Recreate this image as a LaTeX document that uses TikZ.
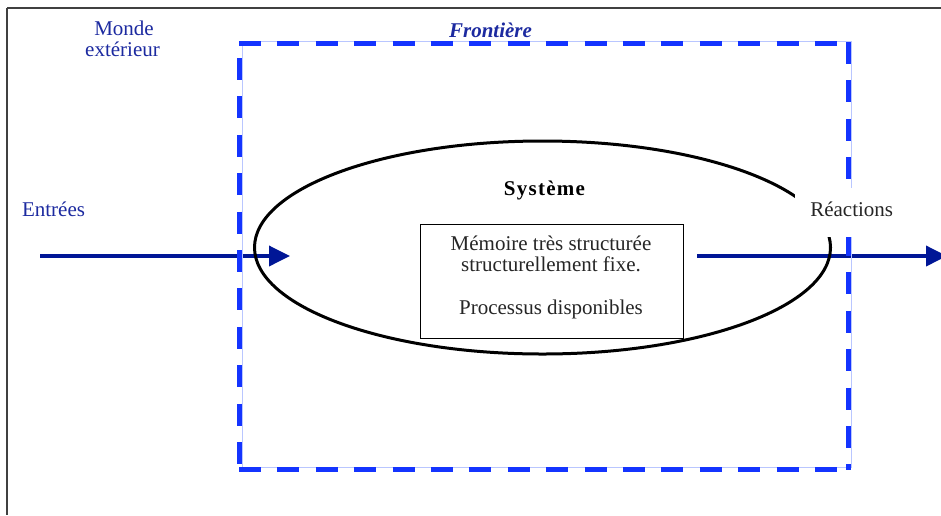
\documentclass[tikz,border=0pt]{standalone}
\usepackage{fontspec}
\setmainfont{Liberation Serif}
\usetikzlibrary{shapes.geometric,arrows.meta}
\definecolor{labelblue}{RGB}{28,42,160}
\definecolor{flowblue}{RGB}{0,22,150}
\definecolor{borderblue}{RGB}{20,52,255}
\definecolor{paleblue}{RGB}{185,198,255}
\tikzset{
  lbl/.style={inner sep=0pt, anchor=base, font=\fontsize{21}{22}\selectfont},
  bluelbl/.style={lbl, text=labelblue},
  frameline/.style={line width=2pt, black!75},
  edgethin/.style={line width=0.9pt, paleblue},
  edgedash/.style={line width=5pt, borderblue, dash pattern=on 22pt off 16.4pt},
  flow/.style={line width=3.6pt, flowblue, -{Triangle[length=21pt,width=20pt]}},
  sysellipse/.style={ellipse, draw, line width=3pt, minimum width=576pt, minimum height=213pt, inner sep=0pt},
  membox/.style={rectangle, draw, line width=0.9pt, minimum width=263pt, minimum height=114pt, inner sep=0pt},
}
\begin{document}
\begin{tikzpicture}[x=1pt,y=-1pt]
  \useasboundingbox (0,0) rectangle (941,515);
  \fill[white] (0,0) rectangle (941,515);

  % outer frame (top and left edges)
  \draw[frameline] (7,8) -- (941,8);
  \draw[frameline] (7,8) -- (7,515);

  % flows
  \coordinate (inA) at (40,256);
  \coordinate (inB) at (290,256);
  \coordinate (outA) at (697,256);
  \coordinate (outB) at (947,256);
  \draw[flow] (inA) -- (inB);
  \draw[flow] (outA) -- (outB);

  % the system
  \node[sysellipse] (sys) at (542.5,247.5) {};
  \node[membox] (mem) at (552,281) {};

  % boundary of the system: pale outline under thick dashes
  \draw[edgethin] (242,41) rectangle (851,467);
  \draw[edgedash] (239,43.2) -- (852,43.2);
  \draw[edgedash] (239,469.5) -- (852,469.5);
  \draw[edgedash, dash phase=-15pt] (239.5,43) -- (239.5,470);
  \draw[edgedash] (848.5,42) -- (848.5,470);

  % labels
  \node[bluelbl] (monde) at (124,35) {Monde};
  \node[bluelbl] (ext) at (122.5,56.7) {extérieur};
  \node[bluelbl, font=\fontsize{21}{22}\selectfont\bfseries\itshape] (front) at (490.5,37.5) {Frontière};
  \node[bluelbl] (entrees) at (53.5,216) {Entrées};
  \node[lbl, text=black!85, fill=white, inner xsep=15pt, inner ysep=13pt,
        text height=15pt, text depth=8pt] (reac) at (851.7,216) {Réactions};
  \node[lbl, font=\fontsize{21}{22}\selectfont\bfseries\addfontfeature{LetterSpace=6}] (systeme) at (544.5,195) {Système};

  \node[lbl, text=black!85] (m1) at (551,250) {Mémoire très structurée};
  \node[lbl, text=black!85] (m2) at (551,271.7) {structurellement fixe.};
  \node[lbl, text=black!85] (m3) at (551,314) {Processus disponibles};
\end{tikzpicture}
\end{document}
